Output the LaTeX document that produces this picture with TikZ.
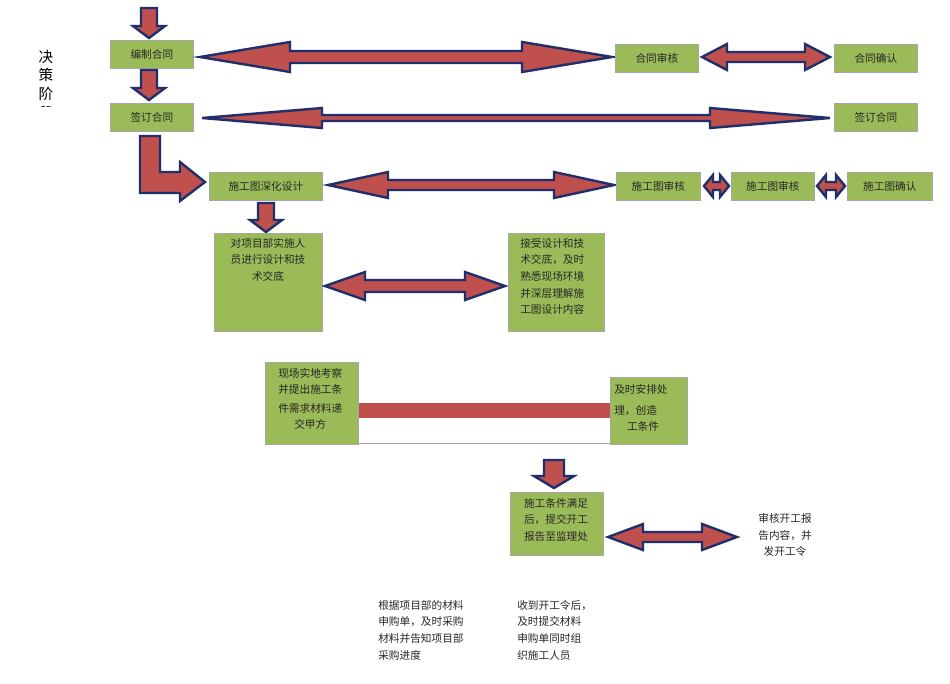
\documentclass[tikz,border=0pt]{standalone}
\usepackage{fontspec}
\newfontfamily\cjk{Noto Sans CJK SC}
\definecolor{boxg}{HTML}{9BBB59}
\definecolor{arrR}{HTML}{C0504D}
\definecolor{arrB}{HTML}{1F2F6B}
\tikzset{
 box/.style={draw=gray!70, line width=0.6pt, fill=boxg, font=\cjk\fontsize{8}{11}\selectfont, text=black!85, inner sep=2pt, align=center},
 arr/.style={fill=arrR, draw=arrB, line width=1.8pt, line join=miter},
 txt/.style={font=\cjk\fontsize{8}{12.5}\selectfont, text=black!85, align=left, inner sep=0pt}
}
% double arrow: x1 x2 y shafthalf headhalf headlen
\newcommand\dbarr[6]{\filldraw[arr] (#1,#3) -- ({#1+#6},{#3-#5}) -- ({#1+#6},{#3-#4}) -- ({#2-#6},{#3-#4}) -- ({#2-#6},{#3-#5}) -- (#2,#3) -- ({#2-#6},{#3+#5}) -- ({#2-#6},{#3+#4}) -- ({#1+#6},{#3+#4}) -- ({#1+#6},{#3+#5}) -- cycle;}
% down arrow: x y1 y2 shafthalf headhalf headlen
\newcommand\dnarr[6]{\filldraw[arr] ({#1-#4},#2) -- ({#1+#4},#2) -- ({#1+#4},{#3-#6}) -- ({#1+#5},{#3-#6}) -- (#1,#3) -- ({#1-#5},{#3-#6}) -- ({#1-#4},{#3-#6}) -- cycle;}
\newcommand\bx[6]{\node[box, minimum width={(#4-#2)*0.75pt}, minimum height={(#5-#3)*0.75pt}, anchor=north west] (#1) at (#2,#3) {#6};}
\begin{document}
\begin{tikzpicture}[x=0.75pt,y=-0.75pt]
\useasboundingbox (0,0) rectangle (950,683);
\fill[white] (0,0) rectangle (950,683);
% vertical title
\begin{scope}
\clip (30,40) rectangle (60,106);
\node[font=\cjk\fontsize{11}{14}\selectfont, align=center, anchor=north] (title) at (46,45) {决\\策\\阶\\段};
\end{scope}
% row 1
\dnarr{149}{8}{38}{8}{16}{12}
\bx{a1}{110}{40}{193}{68}{编制合同}
\dbarr{200}{612}{57}{6}{15}{90}
\bx{a2}{615}{44}{698}{72}{合同审核}
\dbarr{702}{830}{57}{5}{13}{25}
\bx{a3}{834}{44}{917}{72}{合同确认}
% row 2
\dnarr{149}{70}{100}{8}{16}{12}
\bx{b1}{110}{103}{193}{131}{签订合同}
\dbarr{202}{830}{118}{3}{10}{120}
\bx{b2}{834}{103}{917}{131}{签订合同}
% L arrow
\filldraw[arr] (140,136) -- (160,136) -- (160,172) -- (180,172) -- (180,162) -- (205,182) -- (180,201) -- (180,193) -- (140,193) -- cycle;
\bx{c1}{209}{172}{322}{200}{施工图深化设计}
\dbarr{328}{614}{185}{5}{13}{60}
\bx{c2}{616}{172}{700}{200}{施工图审核}
\dbarr{704}{729}{186}{4}{11}{9}
\bx{c3}{731}{172}{814}{200}{施工图审核}
\dbarr{817}{845}{186}{4}{11}{9}
\bx{c4}{847}{172}{932}{200}{施工图确认}
% row 4
\dnarr{266}{203}{232}{8}{16}{12}
\bx{d1}{214}{233}{322}{331}{}
\node[txt, align=center, anchor=north] at (268,238) {对项目部实施人\\员进行设计和技\\术交底};
\dbarr{325}{505}{286}{6}{14}{40}
\bx{d2}{508}{233}{604}{331}{}
\node[txt, align=left, anchor=north west] at (520,238) {接受设计和技\\术交底，及时\\熟悉现场环境\\并深层理解施\\工图设计内容};
% row 5
\draw[gray!70, line width=0.6pt] (358,403) rectangle (610,443);
\fill[arrR] (358,403) rectangle (610,418);
\bx{e1}{265}{362}{358}{444}{}
\node[txt, anchor=north west, align=left] at (278,368) {现场实地考察\\并提出施工条};
\node[txt, anchor=north west, align=center] at (278,403) {件需求材料递\\交甲方};
\bx{e2}{610}{377}{687}{444}{}
\node[txt, anchor=north west, align=left] at (614,384) {及时安排处};
\node[txt, anchor=north west, align=left] at (614,405) {理，创造\\\hspace{1.2em}工条件};
% row 6
\dnarr{554}{460}{488}{10}{20}{12}
\bx{f1}{510}{492}{603}{555}{}
\node[txt, anchor=north, align=center] at (556,498) {施工条件满足\\后，提交开工\\报告至监理处};
\dbarr{608}{737}{537}{5}{13}{35}
\node[txt, align=center] (f2) at (785,535) {审核开工报\\告内容，并\\发开工令};
% bottom texts
\node[txt, anchor=north west] (g1) at (378,600) {根据项目部的材料\\申购单，及时采购\\材料并告知项目部\\采购进度};
\node[txt, anchor=north west] (g2) at (517,600) {收到开工令后，\\及时提交材料\\申购单同时组\\织施工人员};
\end{tikzpicture}
\end{document}
